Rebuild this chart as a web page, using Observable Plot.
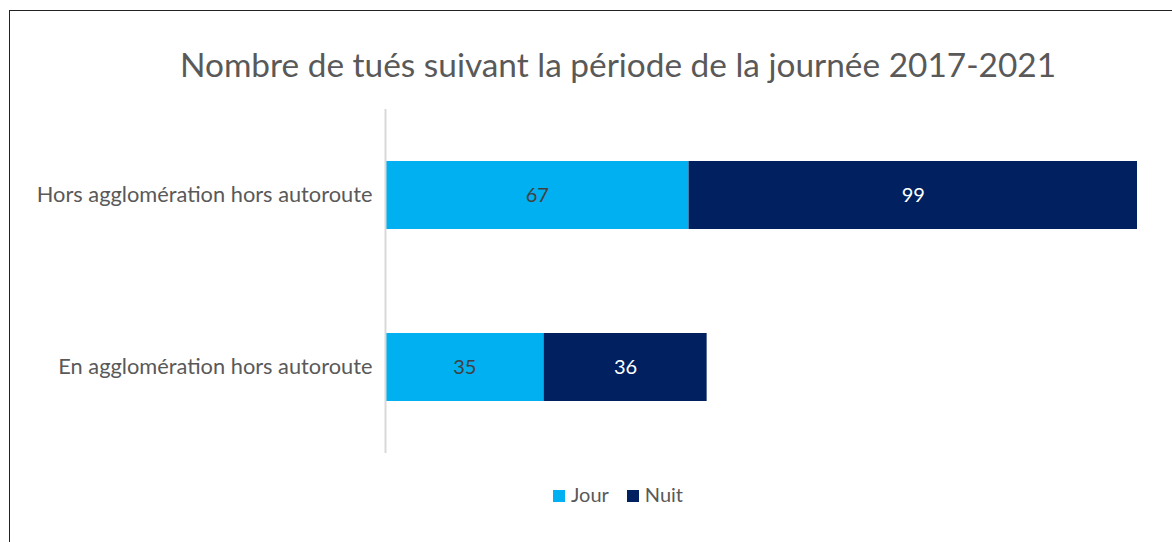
<!DOCTYPE html>
<html>
<head>
<meta charset="utf-8">
<script src="https://cdn.jsdelivr.net/npm/d3@7"></script>
<script src="https://cdn.jsdelivr.net/npm/@observablehq/plot@0.6"></script>
<style>
  html, body { margin: 0; padding: 0; background: #fff; overflow: hidden; }
  body { width: 1172px; height: 542px; position: relative; font-family: Lato, "Open Sans", sans-serif; }
  #frame { position: absolute; left: 9px; top: 10px; width: 1200px; height: 600px; border: 1.5px solid #222; box-sizing: border-box; }
  #title { position: absolute; left: 0; width: 1236px; top: 44px; text-align: center; font-size: 33.4px; color: #595959; white-space: nowrap; }
  #chart { position: absolute; left: 0; top: 0; }
  #legend { position: absolute; left: 0; width: 1236px; top: 482px; text-align: center; font-size: 20px; color: #595959; }
  #legend span.sw { display: inline-block; width: 12px; height: 12px; margin-right: 6px; vertical-align: 0px; }
  #legend span.item { margin: 0 9px; }
</style>
</head>
<body>
<div id="frame"></div>
<div id="title">Nombre de tués suivant la période de la journée 2017-2021</div>
<div id="chart"></div>
<div id="legend"></div>
<script>
const categories = ["Hors agglomération hors autoroute", "En agglomération hors autoroute"];
const periods = ["Jour", "Nuit"];
const jour = [67, 35];
const nuit = [99, 36];
const colors = ["#00B0F0", "#002060"];

const data = [];
categories.forEach((c, i) => {
  data.push({cat: c, period: "Jour", value: jour[i]});
  data.push({cat: c, period: "Nuit", value: nuit[i]});
});

const stackOpts = {x: "value", y: "cat", z: "period"};

const chart = Plot.plot({
  width: 1172,
  height: 542,
  marginLeft: 385,
  marginRight: 35,
  marginTop: 109,
  marginBottom: 89,
  style: {fontFamily: "Lato, 'Open Sans', sans-serif", background: "transparent"},
  x: {domain: [0, 166], axis: null},
  y: {domain: categories, paddingInner: 0.605, paddingOuter: 0.3025, label: null, tickSize: 0, tickPadding: 13},
  color: {domain: periods, range: colors},
  marks: [
    Plot.barX(data, Plot.stackX({...stackOpts, fill: "period"})),
    Plot.ruleX([0], {stroke: "#d9d9d9", strokeWidth: 2}),
    Plot.textX(data, Plot.stackX({...stackOpts, text: d => d.period === "Jour" ? String(d.value) : "", fill: "#404040", fontSize: 20})),
    Plot.textX(data, Plot.stackX({...stackOpts, text: d => d.period === "Nuit" ? String(d.value) : "", fill: "white", fontSize: 20})),
    Plot.axisY({tickSize: 0, tickPadding: 13, fontSize: 21.8, color: "#595959", fill: "#595959", label: null})
  ]
});
document.getElementById("chart").appendChild(chart);

const legend = document.getElementById("legend");
periods.forEach((p, i) => {
  const item = document.createElement("span");
  item.className = "item";
  const sw = document.createElement("span");
  sw.className = "sw";
  sw.style.background = colors[i];
  item.appendChild(sw);
  item.appendChild(document.createTextNode(p));
  legend.appendChild(item);
});
</script>
</body>
</html>
